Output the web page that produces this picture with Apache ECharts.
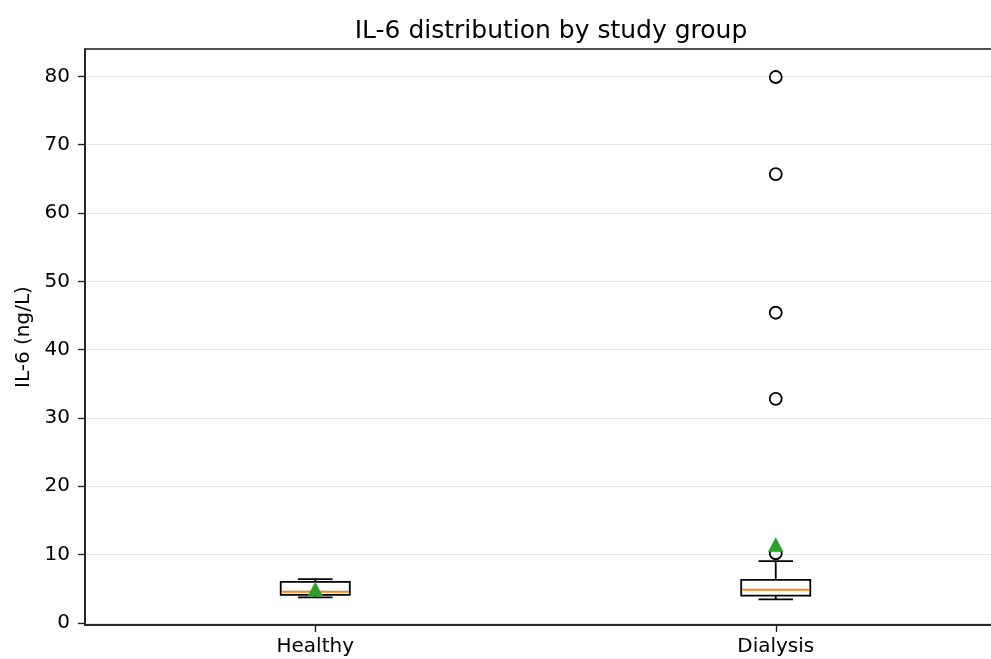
<!DOCTYPE html>
<html>
<head>
<meta charset="utf-8">
<script src="https://cdn.jsdelivr.net/npm/echarts@6/dist/echarts.min.js"></script>
<style>
html,body{margin:0;padding:0;background:#fff;}
#chart{width:991px;height:659px;}
</style>
</head>
<body>
<div id="chart"></div>
<script>
const categories = ['Healthy', 'Dialysis'];
const whiskerLow = [3.75, 3.45];
const q1 = [4.1, 4.0];
const median = [4.55, 4.85];
const q3 = [6.0, 6.3];
const whiskerHigh = [6.4, 9.05];
const means = [4.95, 11.45];
const dialysisOutliers = [10.2, 32.8, 45.4, 65.7, 79.9];
const yTicks = [0, 10, 20, 30, 40, 50, 60, 70, 80];

const FONT = 'DejaVu Sans';

const boxData = categories.map((c, i) => [i, whiskerLow[i], q1[i], median[i], q3[i], whiskerHigh[i]]);
const outlierData = dialysisOutliers.map(v => [1, v]);
const meanData = means.map((v, i) => [i, v]);

function renderBox(params, api) {
  const idx = api.value(0);
  const band = api.size([1, 0])[0];
  const bw = band * 0.15;
  const cw = bw / 2;
  const pLow = api.coord([idx, api.value(1)]);
  const pQ1 = api.coord([idx, api.value(2)]);
  const pMed = api.coord([idx, api.value(3)]);
  const pQ3 = api.coord([idx, api.value(4)]);
  const pHigh = api.coord([idx, api.value(5)]);
  const x = pMed[0];
  const lineStyle = { stroke: '#000', lineWidth: 1.8, fill: null };
  return {
    type: 'group',
    children: [
      { type: 'line', shape: { x1: x, y1: pLow[1], x2: x, y2: pQ1[1] }, style: lineStyle },
      { type: 'line', shape: { x1: x, y1: pQ3[1], x2: x, y2: pHigh[1] }, style: lineStyle },
      { type: 'line', shape: { x1: x - cw / 2, y1: pLow[1], x2: x + cw / 2, y2: pLow[1] }, style: lineStyle },
      { type: 'line', shape: { x1: x - cw / 2, y1: pHigh[1], x2: x + cw / 2, y2: pHigh[1] }, style: lineStyle },
      { type: 'rect', shape: { x: x - bw / 2, y: pQ3[1], width: bw, height: pQ1[1] - pQ3[1] }, style: { fill: '#fff', stroke: '#000', lineWidth: 1.8 } },
      { type: 'line', shape: { x1: x - bw / 2 + 1, y1: pMed[1], x2: x + bw / 2 - 1, y2: pMed[1] }, style: { stroke: '#ff7f0e', lineWidth: 2 } }
    ]
  };
}

const chart = echarts.init(document.getElementById('chart'), null, { renderer: 'canvas' });
chart.setOption({
  animation: false,
  backgroundColor: '#fff',
  title: {
    text: 'IL-6 distribution by study group',
    left: 546,
    textAlign: 'center',
    top: 14,
    textStyle: { fontFamily: FONT, fontSize: 25, fontWeight: 'normal', color: '#000' }
  },
  grid: {
    left: 85, top: 49, width: 921, height: 576,
    outerBoundsMode: 'none',
    containLabel: false,
    show: true, borderColor: '#1a1a1a', borderWidth: 1.5, backgroundColor: 'transparent'
  },
  xAxis: {
    type: 'category',
    data: categories,
    boundaryGap: true,
    axisLine: { show: true, onZero: false, lineStyle: { color: '#1a1a1a', width: 1.5 } },
    axisTick: { show: true, alignWithLabel: true, length: 7, lineStyle: { color: '#1a1a1a', width: 1.3 } },
    axisLabel: { fontFamily: FONT, fontSize: 20, color: '#000', margin: 12 },
    splitLine: { show: false }
  },
  yAxis: {
    type: 'value',
    min: -0.3,
    max: 84,
    name: 'IL-6 (ng/L)',
    nameLocation: 'middle',
    nameGap: 51,
    nameTextStyle: { fontFamily: FONT, fontSize: 20, color: '#000' },
    axisLine: { show: true, onZero: false, lineStyle: { color: '#1a1a1a', width: 1.5 } },
    axisTick: { show: true, length: 7, customValues: yTicks, lineStyle: { color: '#1a1a1a', width: 1.3 } },
    axisLabel: { fontFamily: FONT, fontSize: 20, color: '#000', margin: 15, customValues: yTicks },
    splitLine: { show: true, lineStyle: { color: '#e6e6e6', width: 1.2 } }
  },
  series: [
    {
      type: 'custom',
      renderItem: renderBox,
      data: boxData,
      encode: { x: 0, y: [1, 2, 3, 4, 5] },
      z: 2
    },
    {
      type: 'scatter',
      data: outlierData,
      symbol: 'circle',
      symbolSize: 12,
      itemStyle: { color: 'transparent', borderColor: '#000', borderWidth: 1.8, opacity: 1 },
      z: 3
    },
    {
      type: 'scatter',
      data: meanData,
      symbol: 'triangle',
      symbolSize: [15, 14],
      itemStyle: { color: '#2ca02c', borderColor: '#2ca02c', borderWidth: 0.5, opacity: 1 },
      z: 4
    }
  ]
});
</script>
</body>
</html>
